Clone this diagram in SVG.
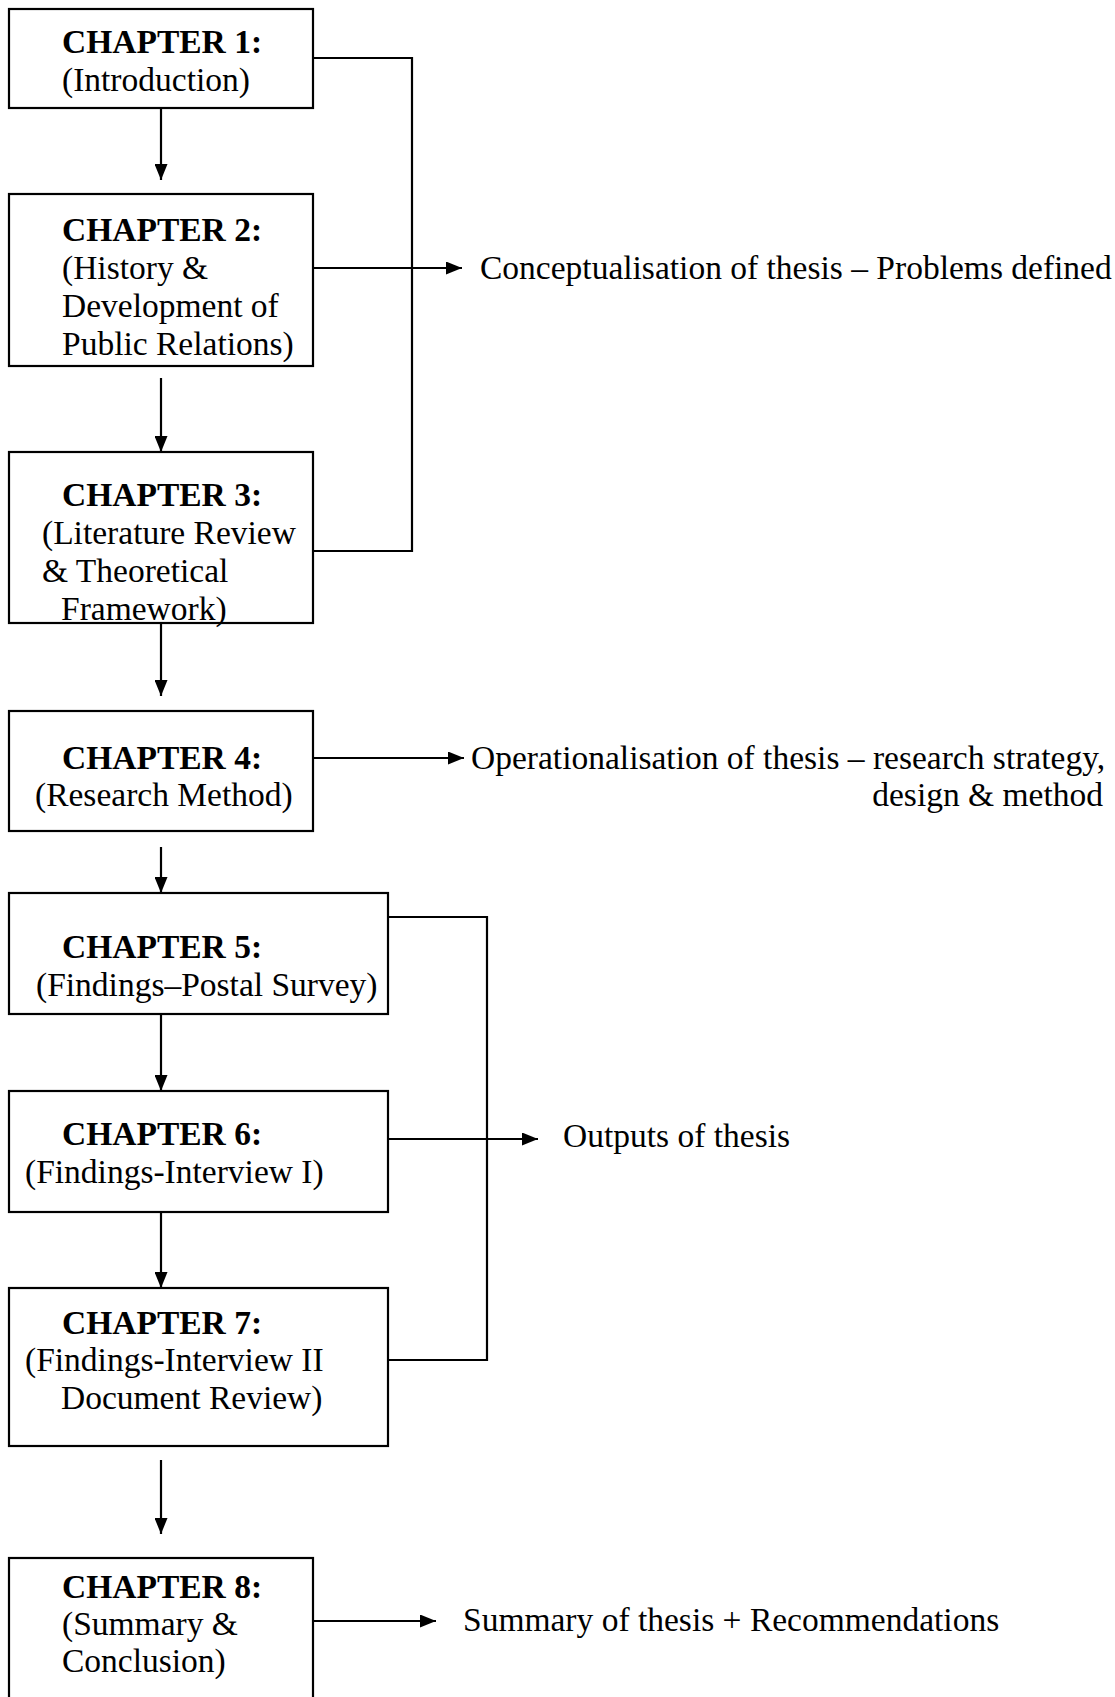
<svg xmlns="http://www.w3.org/2000/svg" width="1115" height="1697" viewBox="0 0 1115 1697">
<defs>
<marker id="ah" markerUnits="userSpaceOnUse" markerWidth="16" markerHeight="13" refX="16" refY="6.5" orient="auto"><path d="M0,0 L16,6.5 L0,13 Z" fill="#000"/></marker>
</defs>
<style>
.box{fill:#fff;stroke:#000;stroke-width:2.2}
.t{font-family:"Liberation Serif","Times New Roman",serif;font-size:33.5px;fill:#000}
.b{font-weight:bold}
.c{fill:none;stroke:#000;stroke-width:2.2}
.a{marker-end:url(#ah)}
</style>
<rect width="1115" height="1697" fill="#fff"/>
<g id="ch1"><rect class="box" x="9" y="9" width="304" height="99"/>
<text class="t b" x="62" y="53">CHAPTER 1:</text>
<text class="t" x="62" y="91">(Introduction)</text></g>
<g id="ch2"><rect class="box" x="9" y="194" width="304" height="172"/>
<text class="t b" x="62" y="241">CHAPTER 2:</text>
<text class="t" x="62" y="279">(History &amp;</text>
<text class="t" x="62" y="317">Development of</text>
<text class="t" x="62" y="355">Public Relations)</text></g>
<g id="ch3"><rect class="box" x="9" y="452" width="304" height="171"/>
<text class="t b" x="62" y="506">CHAPTER 3:</text>
<text class="t" x="42" y="544">(Literature Review</text>
<text class="t" x="42" y="582">&amp; Theoretical</text>
<text class="t" x="61" y="620">Framework)</text></g>
<g id="ch4"><rect class="box" x="9" y="711" width="304" height="120"/>
<text class="t b" x="62" y="769">CHAPTER 4:</text>
<text class="t" x="35" y="806">(Research Method)</text></g>
<g id="ch5"><rect class="box" x="9" y="893" width="379" height="121"/>
<text class="t b" x="62" y="958">CHAPTER 5:</text>
<text class="t" x="36" y="996">(Findings–Postal Survey)</text></g>
<g id="ch6"><rect class="box" x="9" y="1091" width="379" height="121"/>
<text class="t b" x="62" y="1145">CHAPTER 6:</text>
<text class="t" x="25" y="1183">(Findings-Interview I)</text></g>
<g id="ch7"><rect class="box" x="9" y="1288" width="379" height="158"/>
<text class="t b" x="62" y="1334">CHAPTER 7:</text>
<text class="t" x="25" y="1371">(Findings-Interview II</text>
<text class="t" x="61" y="1409">Document Review)</text></g>
<g id="ch8"><rect class="box" x="9" y="1558" width="304" height="160"/>
<text class="t b" x="62" y="1598">CHAPTER 8:</text>
<text class="t" x="62" y="1635">(Summary &amp;</text>
<text class="t" x="62" y="1672">Conclusion)</text></g>
<g id="connectors">
<path class="c a" d="M161,108 V180"/>
<path class="c a" d="M161,378 V452"/>
<path class="c a" d="M161,623 V696"/>
<path class="c a" d="M161,847 V893"/>
<path class="c a" d="M161,1014 V1091"/>
<path class="c a" d="M161,1212 V1288"/>
<path class="c a" d="M161,1460 V1534"/>
<path class="c" d="M313,58 H412 V551 H313"/>
<path class="c a" d="M313,268 H462"/>
<path class="c a" d="M313,758 H464"/>
<path class="c" d="M388,917 H487 V1360 H388"/>
<path class="c a" d="M388,1139 H538"/>
<path class="c a" d="M313,1621 H436"/>
</g>
<g id="labels">
<text class="t" x="480" y="279">Conceptualisation of thesis – Problems defined</text>
<text class="t" x="471" y="769">Operationalisation of thesis – research strategy,</text>
<text class="t" x="1103" y="806" text-anchor="end">design &amp; method</text>
<text class="t" x="563" y="1147">Outputs of thesis</text>
<text class="t" x="463" y="1631">Summary of thesis + Recommendations</text>
</g>
</svg>
